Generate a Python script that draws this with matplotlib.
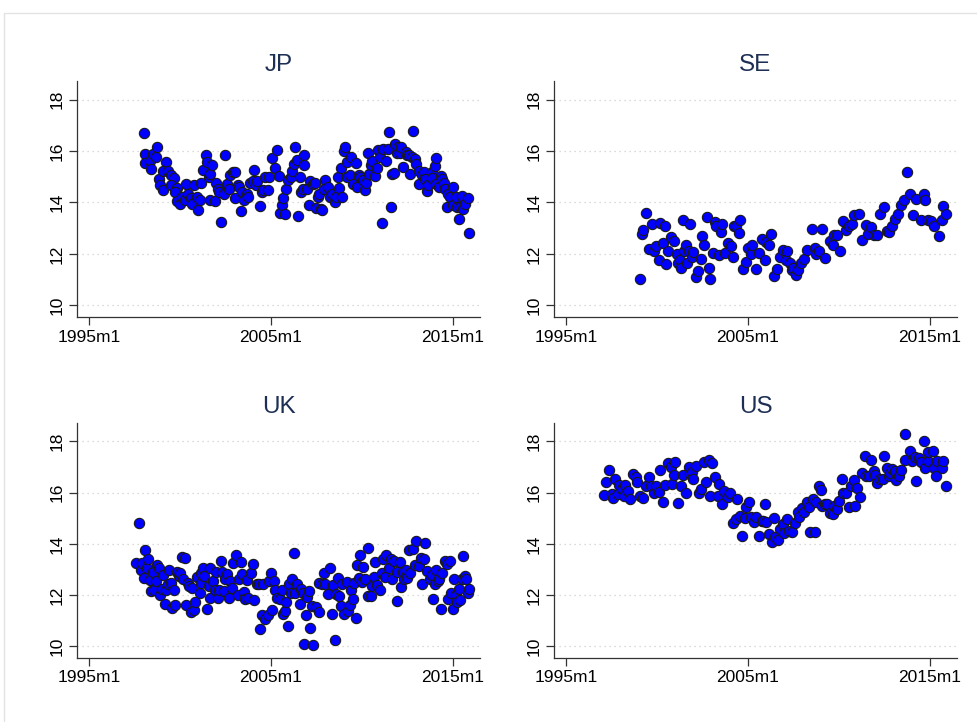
import matplotlib
matplotlib.use("Agg")
import matplotlib.pyplot as plt
from matplotlib import patches

plt.rcParams['font.family'] = ['Liberation Sans', 'DejaVu Sans']

# x values are months since 1995m1
jp_m = [36, 37, 37, 40, 41, 42, 44, 45, 46, 47,
        49, 51, 49, 52, 54, 56, 54, 58, 57, 58,
        60, 61, 63, 64, 65, 67, 68, 69, 71, 72,
        73, 74, 75, 77, 78, 79, 80, 81, 80, 83,
        84, 85, 86, 87, 89, 90, 91, 92, 93, 95,
        96, 96, 98, 99, 100, 101, 102, 104, 105, 106,
        109, 108, 110, 111, 113, 114, 115, 116, 118, 119,
        121, 123, 124, 125, 126, 127, 128, 129, 130, 131,
        133, 134, 135, 136, 137, 138, 139, 140, 141, 142,
        142, 144, 145, 146, 148, 149, 150, 151, 152, 153,
        154, 155, 156, 158, 159, 160, 162, 163, 164, 165,
        166, 167, 168, 169, 170, 170, 172, 173, 174, 176,
        177, 178, 179, 181, 182, 183, 184, 185, 186, 187,
        189, 190, 191, 192, 193, 194, 196, 197, 198, 199,
        200, 201, 202, 203, 204, 205, 206, 207, 209, 210,
        211, 212, 213, 214, 215, 216, 218, 218, 220, 221,
        222, 223, 224, 226, 226, 228, 229, 229, 231, 232,
        233, 234, 235, 236, 237, 238, 240, 240, 242, 243,
        244, 245, 246, 247, 248, 250, 251]
jp_v = [16.71, 15.89, 15.53, 15.63, 15.31, 15.89, 15.76, 16.17, 14.92, 14.66,
        14.47, 15.57, 15.22, 15.24, 15.05, 14.96, 14.66, 14.57, 14.40, 14.04,
        13.95, 14.23, 14.08, 14.70, 14.34, 14.17, 13.95, 14.66, 14.23, 13.69,
        14.08, 14.75, 15.27, 15.83, 15.57, 14.98, 15.11, 15.44, 14.08, 14.05,
        14.75, 14.53, 14.40, 13.26, 14.34, 15.83, 14.70, 14.53, 15.05, 15.20,
        15.18, 14.17, 14.66, 14.60, 13.66, 14.40, 14.08, 14.34, 14.21, 14.75,
        15.27, 14.83, 14.66, 14.85, 13.87, 14.40, 14.49, 14.98, 14.47, 14.98,
        15.73, 15.35, 16.05, 15.01, 13.59, 13.92, 14.18, 13.56, 14.53, 14.88,
        14.98, 15.24, 15.48, 16.15, 15.66, 13.46, 14.98, 14.40, 14.53, 15.83,
        15.44, 14.53, 13.92, 14.85, 14.72, 14.75, 13.79, 14.21, 14.34, 13.75,
        13.72, 14.53, 14.88, 14.60, 14.21, 14.31, 14.01, 14.23, 14.98, 14.57,
        15.35, 14.21, 15.99, 16.17, 14.98, 15.57, 15.05, 15.76, 14.72, 15.53,
        14.60, 15.05, 14.98, 14.88, 14.47, 14.75, 15.92, 15.09, 15.44, 15.61,
        15.01, 15.35, 16.05, 15.76, 13.21, 16.08, 15.63, 16.08, 16.72, 13.82,
        15.09, 15.14, 16.28, 15.92, 16.17, 15.92, 16.17, 15.37, 15.95, 15.86,
        15.83, 15.09, 15.76, 16.76, 15.68, 15.50, 14.72, 15.24, 15.05, 15.18,
        14.92, 14.44, 14.66, 15.18, 14.96, 15.40, 15.73, 14.70, 14.60, 15.01,
        14.92, 14.75, 14.53, 13.84, 14.34, 14.21, 14.60, 13.92, 14.23, 13.84,
        13.34, 13.84, 14.27, 13.75, 13.95, 14.18, 12.82]

se_m = [49, 50, 51, 53, 55, 57, 58, 59, 61, 62,
        64, 65, 66, 67, 69, 71, 73, 74, 75, 76,
        77, 78, 79, 80, 81, 82, 83, 84, 86, 87,
        89, 90, 91, 93, 94, 95, 97, 98, 99, 101,
        102, 103, 105, 107, 109, 110, 111, 112, 114, 115,
        117, 119, 120, 122, 123, 125, 127, 129, 131, 132,
        134, 135, 137, 139, 141, 143, 145, 146, 148, 149,
        150, 152, 153, 155, 157, 159, 162, 164, 165, 167,
        169, 171, 174, 176, 177, 179, 181, 183, 185, 187,
        189, 190, 193, 195, 198, 199, 201, 203, 205, 207,
        210, 212, 213, 215, 217, 219, 221, 223, 225, 227,
        229, 231, 234, 236, 237, 239, 241, 243, 246, 248,
        249, 251]
se_v = [11.02, 12.78, 12.94, 13.59, 12.20, 13.17, 12.11, 12.30, 11.77, 13.19,
        12.42, 13.08, 11.62, 12.11, 12.65, 12.50, 11.98, 11.64, 11.77, 11.45,
        13.33, 12.11, 12.36, 11.64, 12.11, 13.15, 11.88, 12.07, 11.10, 11.33,
        11.81, 12.69, 12.33, 13.43, 11.46, 11.02, 12.03, 13.24, 13.08, 11.94,
        12.85, 13.15, 12.03, 12.42, 12.29, 11.88, 13.07, 13.07, 12.81, 13.30,
        11.42, 11.68, 12.24, 12.01, 12.33, 11.42, 12.05, 12.59, 11.75, 12.46,
        12.33, 12.78, 11.13, 11.42, 11.90, 12.14, 11.77, 12.11, 11.64, 11.36,
        11.45, 11.19, 11.38, 11.64, 11.81, 12.16, 12.98, 12.24, 11.98, 12.11,
        12.98, 11.84, 12.52, 12.36, 12.72, 12.72, 12.11, 13.28, 12.94, 13.07,
        13.17, 13.50, 13.56, 12.56, 13.11, 12.78, 13.04, 12.74, 12.74, 13.56,
        13.82, 12.89, 12.85, 13.08, 13.34, 13.56, 13.92, 14.08, 15.18, 14.34,
        13.50, 14.14, 13.33, 14.34, 14.10, 13.33, 13.28, 13.07, 12.68, 13.33,
        13.88, 13.56]

uk_m = [31, 33, 34, 35, 36, 37, 38, 39, 40, 41,
        42, 43, 44, 45, 46, 47, 48, 49, 50, 51,
        52, 53, 54, 55, 56, 57, 58, 59, 60, 61,
        62, 63, 64, 65, 66, 67, 68, 69, 70, 71,
        73, 74, 74, 75, 76, 78, 79, 80, 80, 82,
        83, 84, 85, 86, 87, 88, 89, 90, 91, 92,
        93, 94, 95, 97, 98, 99, 100, 101, 102, 103,
        104, 105, 107, 108, 109, 111, 112, 113, 114, 115,
        116, 118, 119, 120, 121, 122, 123, 124, 126, 127,
        128, 129, 130, 131, 132, 133, 134, 135, 136, 137,
        139, 140, 141, 142, 143, 144, 145, 146, 147, 148,
        150, 152, 152, 154, 155, 156, 158, 159, 160, 161,
        162, 163, 164, 165, 166, 167, 168, 170, 171, 172,
        173, 174, 175, 176, 177, 178, 179, 180, 181, 182,
        184, 184, 186, 187, 188, 189, 190, 192, 193, 194,
        195, 196, 198, 199, 200, 201, 203, 203, 205, 206,
        207, 208, 209, 210, 211, 212, 214, 215, 216, 218,
        219, 220, 221, 222, 223, 225, 226, 227, 228, 229,
        230, 231, 232, 233, 235, 236, 237, 238, 239, 240,
        241, 242, 243, 244, 245, 246, 247, 248, 249, 250,
        251]
uk_v = [13.24, 14.80, 12.98, 13.24, 12.66, 13.76, 13.07, 13.42, 12.59, 12.15,
        12.90, 12.20, 12.55, 13.16, 13.07, 11.99, 12.23, 12.77, 11.64, 12.20,
        12.42, 12.98, 12.46, 11.51, 12.20, 11.61, 12.90, 12.75, 12.85, 13.50,
        12.64, 13.46, 11.61, 12.46, 12.36, 11.35, 12.29, 11.42, 11.74, 12.72,
        12.07, 12.46, 12.88, 13.07, 12.75, 11.45, 12.36, 13.07, 11.90, 12.55,
        12.20, 12.90, 11.90, 12.20, 13.33, 12.90, 12.16, 12.64, 12.81, 11.90,
        12.55, 12.29, 13.24, 13.55, 11.99, 12.64, 13.29, 12.81, 12.12, 11.84,
        12.59, 11.90, 12.85, 13.20, 11.81, 12.42, 12.42, 10.70, 11.22, 12.42,
        11.09, 11.22, 12.55, 12.85, 11.42, 12.55, 12.20, 11.90, 11.84, 12.20,
        11.26, 11.38, 11.74, 10.80, 12.42, 12.07, 12.64, 13.63, 12.07, 12.42,
        11.64, 12.23, 12.07, 10.09, 11.22, 11.94, 12.16, 10.74, 11.58, 10.05,
        11.55, 12.46, 11.35, 12.42, 12.85, 12.42, 12.03, 13.07, 11.26, 12.38,
        10.26, 12.03, 12.68, 11.97, 11.58, 12.42, 11.26, 12.51, 11.38, 11.61,
        12.20, 11.84, 12.46, 11.13, 13.16, 12.68, 13.55, 12.51, 13.11, 12.64,
        13.85, 11.97, 11.97, 12.36, 12.72, 13.29, 12.38, 12.20, 12.85, 13.42,
        12.72, 13.55, 13.07, 13.42, 12.62, 13.33, 12.90, 11.77, 13.29, 12.33,
        12.90, 12.64, 12.98, 12.68, 13.76, 12.85, 13.81, 13.16, 14.11, 13.14,
        13.46, 12.42, 13.40, 14.02, 12.94, 12.64, 12.77, 11.87, 12.42, 12.98,
        12.55, 12.64, 11.45, 12.85, 13.33, 13.20, 11.87, 13.33, 12.10, 11.45,
        12.64, 11.99, 11.74, 12.23, 11.81, 12.62, 13.53, 12.75, 12.62, 12.10,
        12.25]

us_m = [25, 26, 28, 30, 31, 32, 34, 35, 37, 38,
        39, 41, 42, 44, 46, 47, 49, 51, 53, 55,
        56, 58, 59, 61, 62, 64, 65, 67, 69, 70,
        71, 72, 74, 76, 77, 79, 81, 82, 83, 84,
        86, 88, 89, 91, 92, 94, 95, 96, 98, 100,
        101, 103, 104, 107, 108, 110, 112, 113, 115, 116,
        118, 119, 121, 122, 124, 125, 127, 129, 130, 131,
        132, 134, 136, 137, 138, 140, 141, 143, 144, 146,
        147, 149, 151, 153, 154, 156, 157, 159, 160, 161,
        163, 164, 165, 167, 168, 169, 171, 172, 174, 176,
        177, 179, 180, 182, 183, 185, 187, 188, 190, 191,
        192, 194, 195, 197, 198, 200, 201, 203, 204, 205,
        207, 209, 210, 212, 213, 214, 215, 217, 218, 220,
        221, 224, 224, 227, 228, 230, 231, 233, 234, 236,
        237, 239, 239, 242, 243, 244, 245, 248, 249, 251]
us_v = [15.92, 16.40, 16.90, 15.96, 15.80, 16.53, 15.96, 16.31, 16.15, 15.89,
        16.31, 16.05, 15.76, 16.74, 16.61, 16.40, 15.89, 15.80, 16.27, 16.61,
        16.25, 15.99, 16.27, 16.02, 16.87, 15.63, 16.31, 17.16, 17.00, 16.35,
        16.70, 17.18, 15.60, 16.27, 16.70, 15.99, 17.00, 16.74, 16.79, 16.53,
        17.05, 15.99, 16.15, 17.18, 16.40, 17.26, 15.89, 17.16, 16.61, 15.89,
        16.35, 15.57, 16.05, 15.83, 15.99, 14.80, 14.98, 15.76, 15.11, 14.33,
        15.02, 15.44, 15.63, 15.06, 14.85, 15.06, 14.33, 14.89, 14.89, 15.57,
        14.85, 14.37, 14.07, 15.02, 14.28, 14.15, 14.59, 14.76, 14.41, 14.98,
        14.50, 14.46, 14.80, 15.24, 15.06, 15.41, 15.24, 15.63, 15.44, 14.46,
        15.76, 14.46, 15.63, 16.27, 16.12, 15.50, 15.57, 15.57, 15.21, 15.15,
        15.50, 15.37, 15.67, 16.53, 15.99, 15.99, 15.44, 16.27, 16.48, 15.50,
        16.18, 15.83, 16.77, 17.44, 16.64, 16.64, 17.26, 16.83, 16.70, 16.38,
        16.53, 16.53, 17.44, 16.96, 16.64, 16.77, 16.92, 16.83, 16.48, 16.64,
        16.87, 18.30, 17.26, 17.61, 17.22, 17.39, 16.44, 17.35, 17.18, 18.00,
        16.96, 17.22, 17.57, 17.61, 16.96, 16.66, 17.22, 16.96, 17.22, 16.27]

panels = [("JP", jp_m, jp_v), ("SE", se_m, se_v), ("UK", uk_m, uk_v), ("US", us_m, us_v)]
xticks = [0, 120, 240]
xlabels = ["1995m1", "2005m1", "2015m1"]
yticks = [10, 12, 14, 16, 18]

W, H = 977, 722
fig = plt.figure(figsize=(W / 100, H / 100), dpi=100)
fig.patch.set_facecolor("white")

# thin grey frame of the graph region (page crop)
fig.patches.append(patches.Rectangle((4 / W, -0.05), 1.2, 1 - 13 / H + 0.05,
                                     transform=fig.transFigure, fill=False,
                                     edgecolor="#e3e3e3", linewidth=1.0))

# axes boxes in pixels: left, top, right, bottom
boxes = [(77, 81, 480, 317), (554, 81, 957, 317),
         (77, 423, 480, 658), (554, 423, 957, 658)]

for (name, xm, yv), (l, t, r, b) in zip(panels, boxes):
    ax = fig.add_axes([l / W, 1 - b / H, (r - l) / W, (b - t) / H])
    ax.set_xlim(-8, 258)
    ax.set_ylim(9.55, 18.72)
    for yy in yticks:
        ax.axhline(yy, color="#cfcfcf", linestyle=(0, (1, 3)), linewidth=0.9, zorder=0)
    ax.scatter(xm, yv, s=55, c="#0000ff", edgecolors="#1a1a1a", linewidths=0.8, zorder=3)
    ax.set_xticks(xticks)
    ax.set_xticklabels(xlabels)
    ax.set_yticks(yticks)
    ax.set_yticklabels([str(v) for v in yticks], rotation=90, va="center")
    ax.tick_params(axis="both", length=6, width=0.9, color="#333333", labelsize=12.5, pad=3)
    for s in ("top", "right"):
        ax.spines[s].set_visible(False)
    for s in ("left", "bottom"):
        ax.spines[s].set_color("#333333")
        ax.spines[s].set_linewidth(0.9)
    ax.set_title(name, fontsize=17.5, color="#1e2f55", pad=7)

fig.savefig("out.png", dpi=100, facecolor="white")
